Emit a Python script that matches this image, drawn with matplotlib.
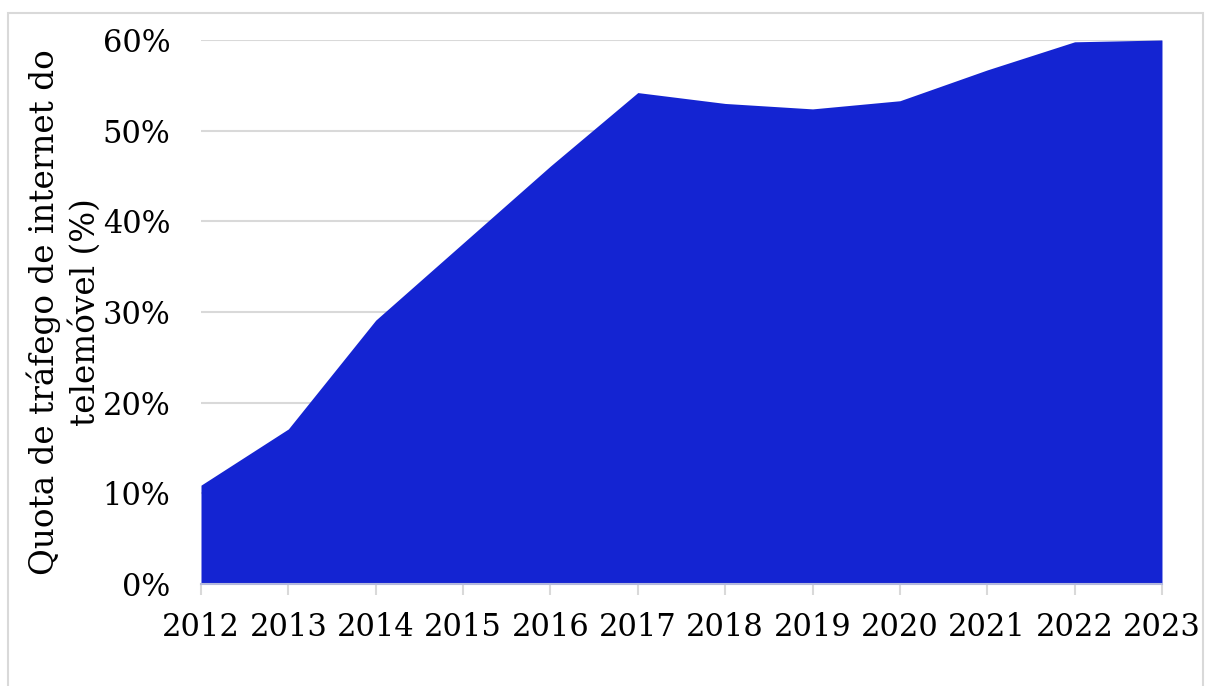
import matplotlib
matplotlib.use("Agg")
import matplotlib.pyplot as plt
from matplotlib.patches import Rectangle
from matplotlib.ticker import FuncFormatter, MultipleLocator

# ── Data ─────────────────────────────────────────────────────────────────────
years = [2012, 2013, 2014, 2015, 2016, 2017, 2018, 2019, 2020, 2021, 2022, 2023]
mobile_share = [10.9, 17.1, 29.1, 37.6, 46.1, 54.2, 53.0, 52.4, 53.3, 56.7, 59.8, 60.0]

FILL = "#1424D2"
GRID = "#d9d9d9"

plt.rcParams["font.family"] = ["DejaVu Serif"]

fig = plt.figure(figsize=(12.05, 6.86), dpi=100)
ax = fig.add_axes([0.1668, 0.1487, 0.7975, 0.793])

ax.fill_between(years, mobile_share, 0, color=FILL, linewidth=0, zorder=2)

ax.set_xlim(years[0], years[-1])
ax.set_ylim(0, 60)
ax.set_xticks(years)
ax.yaxis.set_major_locator(MultipleLocator(10))
ax.yaxis.set_major_formatter(FuncFormatter(lambda v, _: f"{v:.0f}%"))

ax.grid(axis="y", color=GRID, linewidth=1.5, zorder=0)
for side in ("top", "right", "left"):
    ax.spines[side].set_visible(False)
ax.spines["bottom"].set_color("#b4b9dc")
ax.spines["bottom"].set_linewidth(1.5)
ax.spines["bottom"].set_zorder(3)

ax.tick_params(axis="x", colors=GRID, length=8, width=1.5, labelsize=22,
               labelcolor="black", pad=12)
ax.tick_params(axis="y", length=0, labelsize=22, labelcolor="black", pad=22)

ax.set_ylabel("Quota de tráfego de internet do\ntelemóvel (%)", fontsize=23.5,
              linespacing=1.3, labelpad=1)

# light frame round the whole chart
fig.patches.append(Rectangle((8 / 1205, -0.05), 1195 / 1205, 1.05 - 13 / 686,
                             transform=fig.transFigure, fill=False,
                             edgecolor="#d9d9d9", linewidth=1.5))

fig.savefig("out.png", dpi=100)
